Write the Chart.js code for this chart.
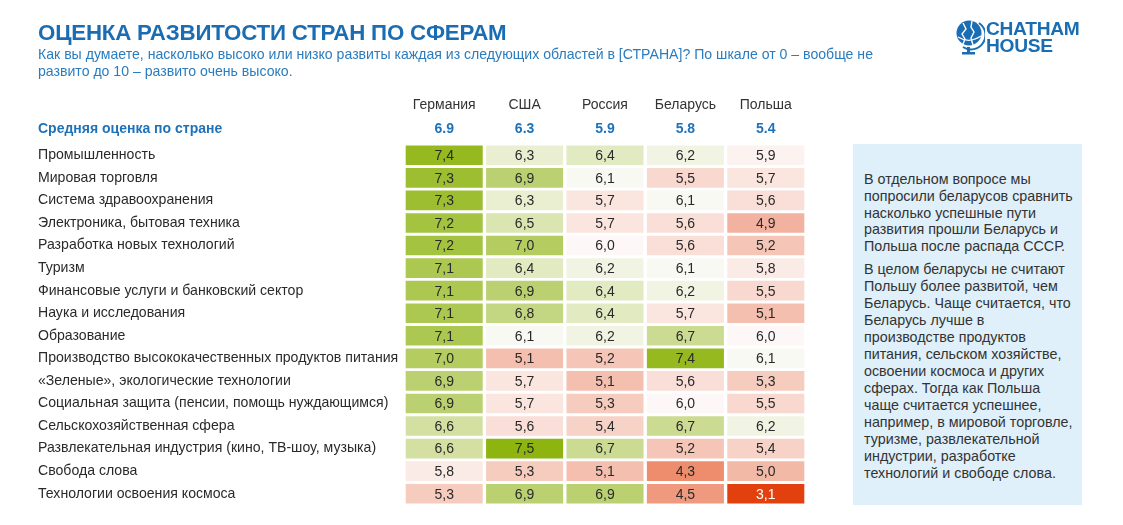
<!DOCTYPE html>
<html lang="ru">
<head>
<meta charset="utf-8">
<title>Оценка развитости стран по сферам</title>
<script src="https://cdn.jsdelivr.net/npm/chart.js@4"></script>
<style>
  html, body { margin: 0; padding: 0; background: #fff; }
  body { width: 1123px; height: 525px; position: relative; overflow: hidden;
         font-family: "Liberation Sans", Arial, sans-serif; }
  #wrap { position: absolute; left: 0; top: 0; width: 1123px; height: 525px; }
  .title { position: absolute; left: 38px; top: 20px; font-size: 22.3px; font-weight: bold;
           color: #1b6db3; letter-spacing: -0.2px; white-space: nowrap; }
  .subtitle { position: absolute; left: 38px; top: 46px; font-size: 14.1px; line-height: 17px;
              color: #2a7cbf; white-space: nowrap; }
  .note { position: absolute; left: 853px; top: 144px; width: 229px; height: 361px;
          background: #dff0fa; box-sizing: border-box; padding: 27px 4px 0 11px;
          font-size: 14.3px; line-height: 16.8px; color: #333; white-space: nowrap; }
  .note p { margin: 0 0 6px 0; }
  .note p + p { line-height: 17px; }
  .logo { position: absolute; left: 955px; top: 17px; }
  .logo-text { position: absolute; left: 986px; top: 20px; font-size: 19.2px; line-height: 17px;
               font-weight: bold; color: #1b6db3; letter-spacing: -0.3px; }
</style>
</head>
<body>
<div id="wrap"><canvas id="chart"></canvas></div>

<div class="title">ОЦЕНКА РАЗВИТОСТИ СТРАН ПО СФЕРАМ</div>
<div class="subtitle">Как вы думаете, насколько высоко или низко развиты каждая из следующих областей в [СТРАНА]? По шкале от 0 – вообще не<br>развито до 10 – развито очень высоко.</div>

<svg class="logo" width="30" height="40" viewBox="0 0 30 40">
  <circle cx="14" cy="16" r="12.5" fill="#1b6db3"/>
  <path d="M8 6 L11 12 L7 17 L10 22 L8 27" stroke="#fff" stroke-width="1.4" fill="none"/>
  <path d="M17 4 L16 10 L19 15 L16 21 L18 28" stroke="#fff" stroke-width="1.4" fill="none"/>
  <path d="M3 20 Q14 27 26 19" stroke="#fff" stroke-width="1.2" fill="none"/>
  <path d="M24 6 A 14 14 0 0 1 8 30" stroke="#1b6db3" stroke-width="2" fill="none"/>
  <rect x="12" y="30" width="3" height="5" fill="#1b6db3"/>
  <rect x="7" y="35" width="13" height="2.5" fill="#1b6db3"/>
</svg>
<div class="logo-text">CHATHAM<br>HOUSE</div>

<div class="note">
  <p>В отдельном вопросе мы<br>попросили беларусов сравнить<br>насколько успешные пути<br>развития прошли Беларусь и<br>Польша после распада СССР.</p>
  <p>В целом беларусы не считают<br>Польшу более развитой, чем<br>Беларусь. Чаще считается, что<br>Беларусь лучше в<br>производстве продуктов<br>питания, сельском хозяйстве,<br>освоении космоса и других<br>сферах. Тогда как Польша<br>чаще считается успешнее,<br>например, в мировой торговле,<br>туризме, развлекательной<br>индустрии, разработке<br>технологий и свободе слова.</p>
</div>

<script>
// Rows of the table
const categories = [
    'Промышленность',
    'Мировая торговля',
    'Система здравоохранения',
    'Электроника, бытовая техника',
    'Разработка новых технологий',
    'Туризм',
    'Финансовые услуги и банковский сектор',
    'Наука и исследования',
    'Образование',
    'Производство высококачественных продуктов питания',
    '«Зеленые», экологические технологии',
    'Социальная защита (пенсии, помощь нуждающимся)',
    'Сельскохозяйственная сфера',
    'Развлекательная индустрия (кино, ТВ-шоу, музыка)',
    'Свобода слова',
    'Технологии освоения космоса'
];

// Columns
const countries = ['Германия', 'США', 'Россия', 'Беларусь', 'Польша'];
const countryAverages = [6.9, 6.3, 5.9, 5.8, 5.4];
const averageLabel = 'Средняя оценка по стране';

// Scores per country, same order as categories
const germany = [7.4, 7.3, 7.3, 7.2, 7.2, 7.1, 7.1, 7.1, 7.1, 7.0, 6.9, 6.9, 6.6, 6.6, 5.8, 5.3];
const usa     = [6.3, 6.9, 6.3, 6.5, 7.0, 6.4, 6.9, 6.8, 6.1, 5.1, 5.7, 5.7, 5.6, 7.5, 5.3, 6.9];
const russia  = [6.4, 6.1, 5.7, 5.7, 6.0, 6.2, 6.4, 6.4, 6.2, 5.2, 5.1, 5.3, 5.4, 6.7, 5.1, 6.9];
const belarus = [6.2, 5.5, 6.1, 5.6, 5.6, 6.1, 6.2, 5.7, 6.7, 7.4, 5.6, 6.0, 6.7, 5.2, 4.3, 4.5];
const poland  = [5.9, 5.7, 5.6, 4.9, 5.2, 5.8, 5.5, 5.1, 6.0, 6.1, 5.3, 5.5, 6.2, 5.4, 5.0, 3.1];

const seriesValues = [germany, usa, russia, belarus, poland];

/**
 * Three-colour scale: red (low) - white (middle) - green (high)
 */
function cellColor(v) {
    const lo = 3.1, mid = 6.05, hi = 7.5;
    const white = [253, 251, 251];
    const red = [226, 65, 14];
    const green = [141, 180, 15];
    let t, to;
    if (v >= mid) { t = (v - mid) / (hi - mid); to = green; }
    else { t = (mid - v) / (mid - lo); to = red; }
    t = Math.max(0, Math.min(1, t));
    const c = white.map((w, k) => Math.round(w + (to[k] - w) * t));
    return 'rgb(' + c.join(',') + ')';
}

const FONT = '"Liberation Sans", Arial, sans-serif';

// Draws cell values, column headers and averages
const tableText = {
    id: 'tableText',
    afterDatasetsDraw(chart) {
        const ctx = chart.ctx;
        const xScale = chart.scales.x;
        ctx.save();
        ctx.textAlign = 'center';
        ctx.textBaseline = 'middle';

        chart.data.datasets.forEach((ds, i) => {
            const meta = chart.getDatasetMeta(i);
            meta.data.forEach((bar, j) => {
                const v = ds.values[j];
                ctx.font = '14px ' + FONT;
                ctx.fillStyle = v < 4 ? '#ffffff' : '#2a2a2a';
                ctx.fillText(v.toFixed(1).replace('.', ','), (bar.x + bar.base) / 2, bar.y + 1);
            });
        });

        countries.forEach((name, i) => {
            const px = xScale.getPixelForValue(i + 0.5);
            ctx.font = '14px ' + FONT;
            ctx.fillStyle = '#333';
            ctx.fillText(name, px, 105);
            ctx.font = 'bold 14px ' + FONT;
            ctx.fillStyle = '#1f72b8';
            ctx.fillText(countryAverages[i].toFixed(1), px, 129);
        });

        ctx.textAlign = 'left';
        ctx.font = 'bold 14px ' + FONT;
        ctx.fillStyle = '#1f72b8';
        ctx.fillText(averageLabel, 38, 129);
        ctx.restore();
    }
};

const datasets = countries.map((name, i) => ({
    label: name,
    values: seriesValues[i],
    data: seriesValues[i].map(() => [i + 0.025, i + 0.975]),
    backgroundColor: seriesValues[i].map(cellColor),
    borderWidth: 0,
    borderSkipped: false,
    barThickness: 19,
    grouped: false
}));

new Chart(document.getElementById('chart'), {
    type: 'bar',
    data: { labels: categories, datasets: datasets },
    options: {
        indexAxis: 'y',
        responsive: true,
        maintainAspectRatio: false,
        animation: false,
        layout: { padding: { left: 38, right: 317, top: 144, bottom: 20 } },
        scales: {
            x: { type: 'linear', min: 0, max: 5, display: false },
            y: {
                type: 'category',
                offset: true,
                grid: { display: false },
                border: { display: false },
                ticks: {
                    crossAlign: 'far',
                    padding: 0,
                    color: '#2a2a2a',
                    font: { family: FONT, size: 14.1 }
                },
                afterFit(scale) { scale.width = 366; }
            }
        },
        plugins: {
            legend: { display: false },
            tooltip: { enabled: false }
        }
    },
    plugins: [tableText]
});
</script>
</body>
</html>
